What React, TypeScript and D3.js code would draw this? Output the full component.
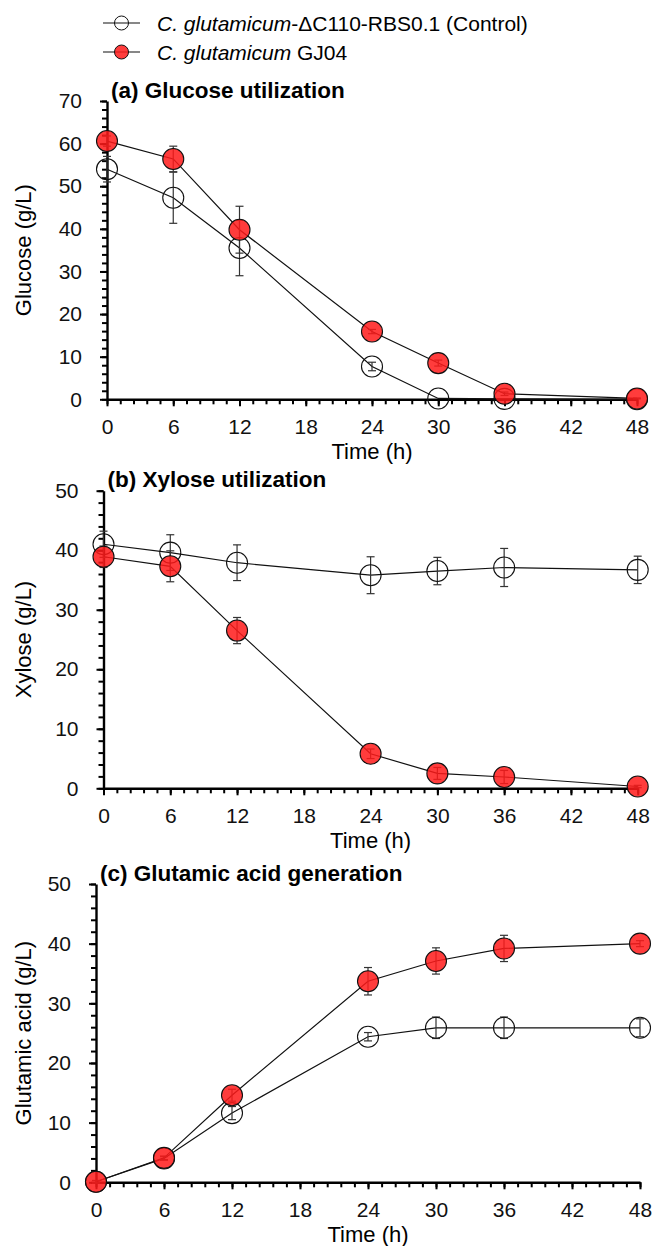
import React, { useRef, useEffect } from 'react';
import * as d3 from 'd3';

// sampling times (h)
const hours = [0, 6, 12, 24, 30, 36, 48];

// (a) glucose, g/L
const glucoseControl = [54.0, 47.3, 35.5, 7.7, 0.2, 0.1, 0];
const glucoseControlErr = [3.0, 6.0, 6.5, 1.0, 0, 0, 0];
const glucoseGJ04 = [60.6, 56.4, 39.8, 15.9, 8.5, 1.3, 0.2];
const glucoseGJ04Err = [1.2, 3.0, 5.5, 0.5, 0.7, 0.4, 0.1];

// (b) xylose, g/L
const xyloseControl = [41.0, 39.6, 37.9, 35.8, 36.5, 37.1, 36.7];
const xyloseControlErr = [2.2, 3.0, 3.0, 3.1, 2.3, 3.2, 2.3];
const xyloseGJ04 = [38.9, 37.3, 26.5, 5.8, 2.5, 1.9, 0.3];
const xyloseGJ04Err = [1.8, 2.6, 2.2, 0.8, 1.0, 1.1, 0.2];

// (c) glutamic acid, g/L
const glutamicControl = [0.1, 4.0, 11.6, 24.4, 25.9, 25.9, 25.9];
const glutamicControlErr = [0.2, 0.3, 1.1, 0.7, 1.8, 1.8, 1.5];
const glutamicGJ04 = [0.1, 4.1, 14.6, 33.7, 37.1, 39.2, 40.0];
const glutamicGJ04Err = [0.2, 0.3, 1.0, 2.3, 2.2, 2.2, 0.5];

const panelTitles = ['(a) Glucose utilization', '(b) Xylose utilization', '(c) Glutamic acid generation'];
const yTitles = ['Glucose (g/L)', 'Xylose (g/L)', 'Glutamic acid (g/L)'];
const yMaxes = [70, 50, 50];
const xTicks = [0, 6, 12, 18, 24, 30, 36, 42, 48];
const xTitle = 'Time (h)';

const FONT = '"Liberation Sans", Arial, sans-serif';
const RED = '#ff1a1a';

const App = () => {
  const ref = useRef(null);

  useEffect(() => {
    const svg = d3.select(ref.current);
    svg.selectAll('*').remove();

    const panels = [
      { control: glucoseControl, controlErr: glucoseControlErr, gj: glucoseGJ04, gjErr: glucoseGJ04Err,
        left: 107, right: 637, top: 101, bottom: 399.3 },
      { control: xyloseControl, controlErr: xyloseControlErr, gj: xyloseGJ04, gjErr: xyloseGJ04Err,
        left: 103.5, right: 637.7, top: 490.7, bottom: 788.3 },
      { control: glutamicControl, controlErr: glutamicControlErr, gj: glutamicGJ04, gjErr: glutamicGJ04Err,
        left: 96, right: 640, top: 884, bottom: 1182.3 },
    ];

    panels.forEach((p, i) => {
      const g = svg.append('g');
      const x = d3.scaleLinear().domain([0, 48]).range([p.left, p.right]);
      const y = d3.scaleLinear().domain([0, yMaxes[i]]).range([p.bottom, p.top]);

      // minor ticks
      g.append('g')
        .attr('transform', `translate(${p.left},0)`)
        .call(d3.axisLeft(y).tickValues(d3.range(0, yMaxes[i] / 2 + 1).map(k => k * 2)).tickSize(5).tickSizeOuter(0).tickFormat(() => ''))
        .call(a => a.select('.domain').remove());
      g.append('g')
        .attr('transform', `translate(0,${p.bottom})`)
        .call(d3.axisBottom(x).tickValues(d3.range(0, 41).map(k => k * 1.2)).tickSize(5).tickSizeOuter(0).tickFormat(() => ''))
        .call(a => a.select('.domain').remove());

      const yAxis = g.append('g')
        .attr('transform', `translate(${p.left},0)`)
        .call(d3.axisLeft(y).tickValues(d3.range(0, yMaxes[i] + 1, 10)).tickSize(7).tickPadding(18).tickSizeOuter(0));
      const xAxis = g.append('g')
        .attr('transform', `translate(0,${p.bottom})`)
        .call(d3.axisBottom(x).tickValues(xTicks).tickSize(7).tickPadding(12.5).tickSizeOuter(0));

      [yAxis, xAxis].forEach(a => {
        a.select('.domain').attr('stroke-width', 2.4);
        a.selectAll('text').attr('font-size', 21).attr('font-family', FONT).attr('fill', '#111');
      });
      g.selectAll('.tick line').attr('stroke-width', 2);

      g.append('text')
        .attr('x', (p.left + p.right) / 2)
        .attr('y', p.bottom + 52.5)
        .attr('text-anchor', 'middle')
        .attr('dominant-baseline', 'central')
        .attr('font-size', 22)
        .attr('font-family', FONT)
        .text(xTitle);

      g.append('text')
        .attr('transform', `translate(23,${(p.top + p.bottom) / 2}) rotate(-90)`)
        .attr('text-anchor', 'middle')
        .attr('dominant-baseline', 'central')
        .attr('font-size', 22)
        .attr('font-family', FONT)
        .text(yTitles[i]);

      g.append('text')
        .attr('x', p.left + 4)
        .attr('y', p.top - 11)
        .attr('dominant-baseline', 'central')
        .attr('font-size', 22.5)
        .attr('font-weight', 'bold')
        .attr('font-family', FONT)
        .text(panelTitles[i]);

      const series = [
        { vals: p.control, errs: p.controlErr, fill: 'none' },
        { vals: p.gj, errs: p.gjErr, fill: RED },
      ];

      const line = d3.line().x((d, k) => x(hours[k])).y(d => y(d));
      series.forEach(s => {
        g.append('path')
          .datum(s.vals)
          .attr('d', line)
          .attr('fill', 'none')
          .attr('stroke', '#111')
          .attr('stroke-width', 1.2);
      });

      series.forEach(s => {
        const eb = g.append('g').attr('stroke', '#333').attr('stroke-width', 1.2);
        s.vals.forEach((v, k) => {
          if (!s.errs[k]) return;
          const cx = x(hours[k]);
          eb.append('line').attr('x1', cx).attr('x2', cx).attr('y1', y(v - s.errs[k])).attr('y2', y(v + s.errs[k]));
          [v - s.errs[k], v + s.errs[k]].forEach(e => {
            eb.append('line').attr('x1', cx - 4).attr('x2', cx + 4).attr('y1', y(e)).attr('y2', y(e));
          });
        });
      });

      series.forEach(s => {
        g.append('g')
          .selectAll('circle')
          .data(s.vals)
          .enter()
          .append('circle')
          .attr('cx', (d, k) => x(hours[k]))
          .attr('cy', d => y(d))
          .attr('r', 10.5)
          .attr('fill', s.fill)
          .attr('fill-opacity', 0.85)
          .attr('stroke', '#111')
          .attr('stroke-width', 1.1);
      });
    });

    // legend
    const legendItems = [
      { italic: 'C. glutamicum', rest: '-ΔC110-RBS0.1 (Control)', fill: 'none' },
      { italic: 'C. glutamicum', rest: ' GJ04', fill: RED },
    ];
    legendItems.forEach((it, k) => {
      const ly = 23 + k * 29;
      const lg = svg.append('g');
      lg.append('line').attr('x1', 103).attr('x2', 140).attr('y1', ly).attr('y2', ly)
        .attr('stroke', '#111').attr('stroke-width', 1.2);
      lg.append('circle').attr('cx', 121.5).attr('cy', ly).attr('r', 7)
        .attr('fill', it.fill).attr('fill-opacity', 0.85).attr('stroke', '#111').attr('stroke-width', 1);
      const t = lg.append('text').attr('x', 157).attr('y', ly)
        .attr('dominant-baseline', 'central').attr('font-size', 21).attr('font-family', FONT);
      t.append('tspan').attr('font-style', 'italic').text(it.italic);
      t.append('tspan').text(it.rest);
    });
  }, []);

  return (
    <svg ref={ref} width={655} height={1246}
      style={{ position: 'absolute', left: 0, top: 0, background: '#fff' }} />
  );
};

export default App;
